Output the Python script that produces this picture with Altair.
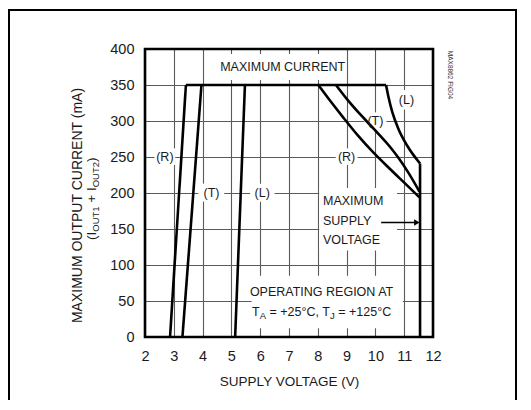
import altair as alt
import pandas as pd

FONT = "Liberation Sans"

# ---------------- data ----------------
# left boundaries (R, T, L)
r_left_v = [2.87, 3.42]
r_left_i = [0, 350]
t_left_v = [3.30, 3.96]
t_left_i = [0, 350]
l_left_v = [5.13, 5.47]
l_left_i = [0, 350]
# maximum current line
top_v = [3.42, 10.37]
top_i = [350, 350]
# power-limited right boundaries
r_right_v = [8.02, 8.45, 8.90, 9.39, 9.91, 10.49, 11.01, 11.53]
r_right_i = [350, 327, 304, 280, 257, 234, 214, 194]
t_right_v = [8.63, 9.04, 9.50, 9.97, 10.49, 10.78, 11.15, 11.53]
t_right_i = [350, 329, 308, 288, 265, 250, 228, 202]
l_right_v = [10.37, 10.45, 10.59, 10.80, 11.10, 11.55]
l_right_i = [350, 334, 312, 289, 266, 241]
# maximum supply voltage limit
vmax_v = [11.55, 11.55]
vmax_i = [241, 0]

x_ticks = [2, 3, 4, 5, 6, 7, 8, 9, 10, 11, 12]
y_ticks = [0, 50, 100, 150, 200, 250, 300, 350, 400]

# white label backgrounds that interrupt the grid
mask_v1 = [4.55, 2.33, 3.85, 5.65, 8.62, 9.62, 10.75, 8.05, 5.70]
mask_v2 = [8.95, 3.05, 4.75, 6.50, 9.38, 10.38, 11.42, 10.75, 10.95]
mask_i1 = [357, 239, 188, 188, 239, 289, 316, 120, 12]
mask_i2 = [393, 262, 213, 213, 262, 312, 343, 207, 85]

# centred annotations
lab_text = ["MAXIMUM CURRENT", "(R)", "(T)", "(L)", "(R)", "(T)", "(L)",
            "OPERATING REGION AT"]
lab_v = [6.78, 2.69, 4.31, 6.07, 9.00, 10.00, 11.08, 8.13]
lab_i = [375, 250, 200, 200, 250, 300, 329, 62]

# left aligned annotation block
msv_text = ["MAXIMUM", "SUPPLY", "VOLTAGE"]
msv_v = [8.18, 8.18, 8.18]
msv_i = [188.6, 160.8, 135.1]

# arrow
arrow_v = [10.20, 11.40]
arrow_i = [159, 159]
arrow_head_v = [11.44]
arrow_head_i = [159]

# temperature line (with subscripts)
temp_pieces = ["T", "A", "= +25°C, T", "J", "= +125°C"]
temp_v = [5.715]
temp_i = [29.6]

ytitle_pieces = ["(I", "OUT1", "+ I", "OUT2", ")"]

# ---------------- tables ----------------
def seg_table(segs):
    rows = []
    for name, vs, is_ in segs:
        for k, (v, i) in enumerate(zip(vs, is_)):
            rows.append({"seg": name, "ord": k, "v": v, "i": i})
    return pd.DataFrame(rows)

straight_df = seg_table([("rl", r_left_v, r_left_i), ("tl", t_left_v, t_left_i),
                         ("ll", l_left_v, l_left_i), ("top", top_v, top_i),
                         ("vmax", vmax_v, vmax_i)])
curve_df = seg_table([("rr", r_right_v, r_right_i), ("tr", t_right_v, t_right_i),
                      ("lr", l_right_v, l_right_i)])

mask_df = pd.DataFrame({"v": mask_v1, "v2": mask_v2, "i": mask_i1, "i2": mask_i2})
lab_df = pd.DataFrame({"t": lab_text, "v": lab_v, "i": lab_i})
msv_df = pd.DataFrame({"t": msv_text, "v": msv_v, "i": msv_i})
arrow_df = pd.DataFrame({"v": arrow_v, "i": arrow_i})
head_df = pd.DataFrame({"v": arrow_head_v, "i": arrow_head_i})
one_df = pd.DataFrame({"a": [0]})

xs = alt.Scale(domain=[2, 12], nice=False, zero=False)
ys = alt.Scale(domain=[0, 400], nice=False)

X = alt.X("v:Q", scale=xs, axis=alt.Axis(
    values=x_ticks, grid=True, gridColor="#5a5a5a", gridWidth=1.1,
    ticks=False, domain=False, labelFont=FONT, labelFontSize=14.5,
    labelColor="#1a1a1a", labelPadding=12, labelFlush=False,
    title="SUPPLY VOLTAGE (V)", titleFont=FONT, titleFontSize=13.5,
    titleFontWeight="normal", titleColor="#1a1a1a", titleY=44,
    titleBaseline="middle"))
Y = alt.Y("i:Q", scale=ys, axis=alt.Axis(
    values=y_ticks, grid=True, gridColor="#5a5a5a", gridWidth=1.1,
    ticks=False, domain=False, labelFont=FONT, labelFontSize=14.5,
    labelColor="#1a1a1a", labelPadding=11, labelFlush=False,
    title="MAXIMUM OUTPUT CURRENT (mA)", titleFont=FONT, titleFontSize=14,
    titleFontWeight="normal", titleColor="#1a1a1a", titleAngle=270,
    titleX=-68, titleY=156, titleAlign="center", titleBaseline="middle"))

masks = alt.Chart(mask_df).mark_rect(color="white").encode(
    x=X, x2="v2:Q", y=Y, y2="i2:Q")

straights = alt.Chart(straight_df).mark_line(color="black", strokeWidth=2.6,
                                             strokeJoin="miter").encode(
    x=X, y=Y, detail="seg:N", order="ord:Q")
curves = alt.Chart(curve_df).mark_line(color="black", strokeWidth=2.6,
                                       interpolate="monotone").encode(
    x=X, y=Y, detail="seg:N", order="ord:Q")

labels = alt.Chart(lab_df).mark_text(font=FONT, fontSize=12.5, color="#1a1a1a",
                                      align="center", baseline="middle").encode(
    x=X, y=Y, text="t:N")

msv = alt.Chart(msv_df).mark_text(font=FONT, fontSize=12.5, color="#1a1a1a",
                                   align="left", baseline="middle").encode(
    x=X, y=Y, text="t:N")

arrow = alt.Chart(arrow_df).mark_line(color="black", strokeWidth=1.4).encode(
    x=X, y=Y)
head = alt.Chart(head_df).mark_point(shape="triangle-right", filled=True,
                                      color="black", size=40, opacity=1).encode(
    x=X, y=Y)

# temperature line pieces
temp_sizes = [12.5, 9.5, 12.5, 9.5, 12.5]
temp_dx = [0, 7.64, 17.46, 78.05, 86.28]
temp_dy = [0, 3, 0, 3, 0]
temp_df = pd.DataFrame({"v": temp_v, "i": temp_i})
temp_layers = []
for txt, fs, dx, dy in zip(temp_pieces, temp_sizes, temp_dx, temp_dy):
    temp_layers.append(alt.Chart(temp_df).mark_text(
        font=FONT, fontSize=fs, color="#1a1a1a", align="left",
        baseline="alphabetic", dx=dx, dy=dy, text=txt).encode(x=X, y=Y))

# second line of y title with subscripts
yt_sizes = [13.5, 9.5, 13.5, 9.5, 13.5]
yt_dx = [0, 8.25, 37.3, 52.7, 78.0]
yt_dy = [0, 3, 0, 3, 0]
yt_layers = []
for txt, fs, dx, dy in zip(ytitle_pieces, yt_sizes, yt_dx, yt_dy):
    yt_layers.append(alt.Chart(one_df).mark_text(
        font=FONT, fontSize=fs, color="#1a1a1a", align="left",
        baseline="alphabetic", angle=270, dx=dx, dy=dy, text=txt).encode(
        x=alt.value(-49), y=alt.value(191)))

border = alt.Chart(one_df).mark_rect(filled=False, stroke="black",
                                     strokeWidth=2.6).encode(
    x=alt.value(0), x2=alt.value(288), y=alt.value(0), y2=alt.value(288))

frame_top = alt.Chart(one_df).mark_rule(color="black", strokeWidth=2).encode(
    x=alt.value(-136), x2=alt.value(371), y=alt.value(-39))
frame_left = alt.Chart(one_df).mark_rule(color="black", strokeWidth=2).encode(
    x=alt.value(-136), y=alt.value(-40), y2=alt.value(360))
frame_right = alt.Chart(one_df).mark_rule(color="black", strokeWidth=2).encode(
    x=alt.value(371), y=alt.value(-40), y2=alt.value(360))

figid = alt.Chart(one_df).mark_text(font=FONT, fontSize=6.5, color="#333333",
                                     angle=90, align="center", baseline="middle",
                                     text="MAX8862 FIG04").encode(
    x=alt.value(305), y=alt.value(26))

chart = alt.layer(
    masks, straights, curves, arrow, head, labels, msv, *temp_layers, *yt_layers,
    border, frame_top, frame_left, frame_right, figid
).properties(
    width=288, height=288,
    autosize=alt.AutoSizeParams(type="none"),
    padding={"left": 137, "top": 41, "right": 87, "bottom": 63},
    background="white",
).configure_view(stroke=None)

chart.save("out.html", embed_options={"renderer": "svg", "actions": False})
